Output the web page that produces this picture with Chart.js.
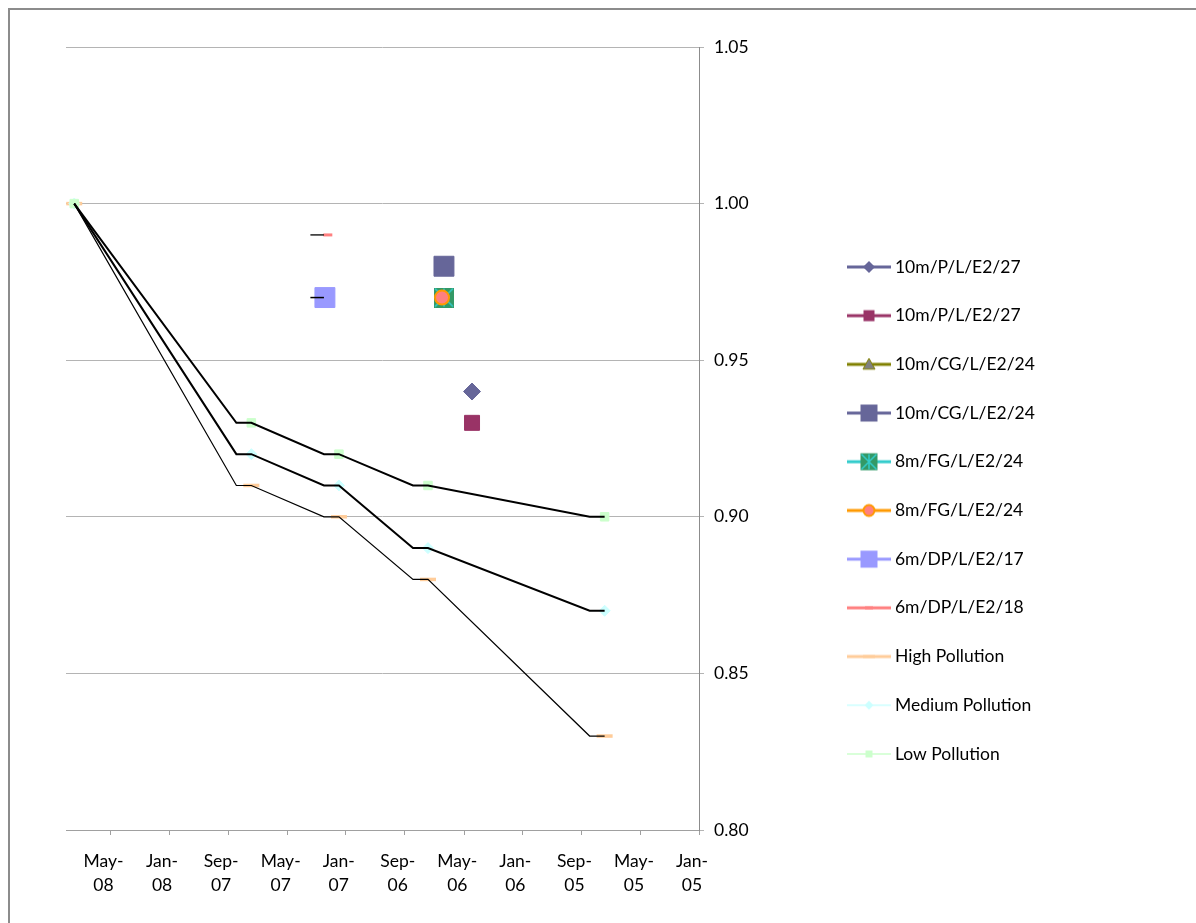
<!DOCTYPE html>
<html>

<head>
    <title>Pollution index chart</title>
    <script src="https://cdn.jsdelivr.net/npm/chart.js"></script>
    <style>
        body { margin: 0; background: #fff; overflow: hidden; }
        #frame { position: absolute; left: 8px; top: 8px; width: 1300px; height: 1000px;
                 border-left: 2px solid #8c8c8c; border-top: 2px solid #8c8c8c; }
        #pollutionChart { position: absolute; left: 0; top: 0; }
    </style>
</head>

<body>
<div id="frame"></div>
<canvas id="pollutionChart" width="1196" height="923"></canvas>
<script>
    // axis ticks (the time axis runs backwards, newest on the left)
    var tickDates = ['2008-05-01', '2008-01-01', '2007-09-01', '2007-05-01', '2007-01-01', '2006-09-01',
        '2006-05-01', '2006-01-01', '2005-09-01', '2005-05-01', '2005-01-01'];
    var tickLabels = ['May-08', 'Jan-08', 'Sep-07', 'May-07', 'Jan-07', 'Sep-06',
        'May-06', 'Jan-06', 'Sep-05', 'May-05', 'Jan-05'];
    var yTicks = [0.80, 0.85, 0.90, 0.95, 1.00, 1.05];

    // pollution scenarios
    var pollutionDates = ['2008-07-15', '2007-07-15', '2007-01-15', '2006-07-15', '2005-07-15'];
    var highPollution = [1.00, 0.91, 0.90, 0.88, 0.83];
    var mediumPollution = [1.00, 0.92, 0.91, 0.89, 0.87];
    var lowPollution = [1.00, 0.93, 0.92, 0.91, 0.90];

    // black step lines over the scenarios
    var stepDates = ['2008-07-15', '2007-08-15', '2007-07-15', '2007-02-15', '2007-01-15',
        '2006-08-15', '2006-07-15', '2005-08-15', '2005-07-15'];
    var highStep = [1.00, 0.91, 0.91, 0.90, 0.90, 0.88, 0.88, 0.83, 0.83];
    var mediumStep = [1.00, 0.92, 0.92, 0.91, 0.91, 0.89, 0.89, 0.87, 0.87];
    var lowStep = [1.00, 0.93, 0.93, 0.92, 0.92, 0.91, 0.91, 0.90, 0.90];

    // single measurements
    var p10Dates = ['2006-04-15'];
    var p10Diamond = [0.94];
    var p10Square = [0.93];
    var cg10Dates = ['2006-06-12'];
    var cg10Triangle = [0.98];
    var cg10Square = [0.98];
    var fg8StarDates = ['2006-06-12'];
    var fg8Star = [0.97];
    var fg8CircleDates = ['2006-06-16'];
    var fg8Circle = [0.97];
    var dp17Dates = ['2007-02-13'];
    var dp17 = [0.97];
    var dp18Dates = ['2007-02-07'];
    var dp18 = [0.99];
    var dpStepDates = ['2007-03-15', '2007-02-15'];
    var dp17Step = [0.97, 0.97];
    var dp18Step = [0.99, 0.99];

    var FONT = 'Lato';
    var FONT_SIZE = 17.5;
    var LEGEND_PAD = 31.2;
    var ICON_WIDTH = 34.5;

    function toDay(s) {
        return Date.UTC(+s.slice(0, 4), +s.slice(5, 7) - 1, +s.slice(8, 10)) / 86400000;
    }

    function pts(dates, values) {
        return values.map(function (v, i) {
            return {x: toDay(dates[i]), y: v};
        });
    }

    // draws one marker shape on a small canvas context
    function shape(g, kind, cx, cy, s, fill, stroke, sw) {
        g.beginPath();
        if (kind == 'diamond') {
            g.moveTo(cx, cy - s); g.lineTo(cx + s, cy); g.lineTo(cx, cy + s); g.lineTo(cx - s, cy); g.closePath();
        } else if (kind == 'square' || kind == 'star') {
            g.rect(cx - s, cy - s, 2 * s, 2 * s);
        } else if (kind == 'triangle') {
            g.moveTo(cx, cy - s); g.lineTo(cx + s, cy + s * 0.8); g.lineTo(cx - s, cy + s * 0.8); g.closePath();
        } else if (kind == 'circle') {
            g.arc(cx, cy, s, 0, Math.PI * 2);
        } else if (kind == 'dash') {
            g.rect(cx - s, cy - 1.5, 2 * s, 3);
        }
        g.fillStyle = fill;
        g.fill();
        if (stroke) {
            g.strokeStyle = stroke;
            g.lineWidth = sw;
            g.stroke();
        }
        if (kind == 'star') {
            g.beginPath();
            g.moveTo(cx - s + 1, cy - s + 1); g.lineTo(cx + s - 1, cy + s - 1);
            g.moveTo(cx + s - 1, cy - s + 1); g.lineTo(cx - s + 1, cy + s - 1);
            g.moveTo(cx, cy - s + 1); g.lineTo(cx, cy + s - 1);
            g.strokeStyle = '#33cccc';
            g.lineWidth = 1.5;
            g.stroke();
        }
    }

    function starMarker(size) {
        var c = document.createElement('canvas');
        c.width = size;
        c.height = size;
        shape(c.getContext('2d'), 'star', size / 2, size / 2, size / 2, '#339966');
        return c;
    }

    function legendIcon(lineColor, lineWidth, kind, s, fill, stroke, sw) {
        var c = document.createElement('canvas');
        c.width = 44;
        c.height = 20;
        var g = c.getContext('2d');
        g.strokeStyle = lineColor;
        g.lineWidth = lineWidth;
        g.beginPath();
        g.moveTo(0, 10);
        g.lineTo(44, 10);
        g.stroke();
        if (kind) {
            shape(g, kind, 22, 10, s, fill, stroke, sw);
        }
        return c;
    }

    var legendIcons = [
        legendIcon('#666699', 3, 'diamond', 6, '#666699'),
        legendIcon('#993366', 3, 'square', 5.5, '#993366'),
        legendIcon('#808000', 3, 'triangle', 6, '#808080', '#808000', 1),
        legendIcon('#666699', 3, 'square', 8.5, '#666699'),
        legendIcon('#33cccc', 3, 'star', 8.5, '#339966'),
        legendIcon('#ff9900', 3, 'circle', 5.5, '#ff8080', '#ff9900', 2),
        legendIcon('#9999ff', 3, 'square', 8.5, '#9999ff'),
        legendIcon('#ff8080', 3, 'dash', 4, '#ff8080'),
        legendIcon('#ffcc99', 3, 'dash', 6, '#ffcc99'),
        legendIcon('#ccffff', 1.5, 'diamond', 4.5, '#ccffff'),
        legendIcon('#ccffcc', 1.5, 'square', 3.5, '#ccffcc')
    ];

    function marker(label, data, style, radius, fill, border, borderWidth) {
        return {
            label: label,
            data: data,
            pointStyle: style,
            pointRadius: radius,
            pointHoverRadius: radius,
            pointBackgroundColor: fill,
            pointBorderColor: border,
            pointBorderWidth: borderWidth,
            backgroundColor: fill,
            borderColor: border
        };
    }

    function step(data, width) {
        return {
            label: '',
            noLegend: true,
            data: data,
            showLine: true,
            borderColor: '#000',
            borderWidth: width,
            pointRadius: 0,
            pointHoverRadius: 0
        };
    }

    var datasets = [
        marker('10m/P/L/E2/27', pts(p10Dates, p10Diamond), 'rectRot', 8.5, '#666699', '#666699', 1),
        marker('10m/P/L/E2/27', pts(p10Dates, p10Square), 'rect', 10.6, '#993366', '#993366', 1),
        marker('10m/CG/L/E2/24', pts(cg10Dates, cg10Triangle), 'triangle', 8, '#808080', '#808000', 1),
        marker('10m/CG/L/E2/24', pts(cg10Dates, cg10Square), 'rect', 14.1, '#666699', '#666699', 1),
        marker('8m/FG/L/E2/24', pts(fg8StarDates, fg8Star), starMarker(20), 10, '#339966', '#33cccc', 1),
        marker('8m/FG/L/E2/24', pts(fg8CircleDates, fg8Circle), 'circle', 7, '#ff8080', '#ff9900', 2),
        marker('6m/DP/L/E2/17', pts(dp17Dates, dp17), 'rect', 14.1, '#9999ff', '#9999ff', 1),
        marker('6m/DP/L/E2/18', pts(dp18Dates, dp18), 'line', 4.5, '#ff8080', '#ff8080', 3),
        marker('High Pollution', pts(pollutionDates, highPollution), 'line', 8, '#ffcc99', '#ffcc99', 3.5),
        marker('Medium Pollution', pts(pollutionDates, mediumPollution), 'rectRot', 5.5, '#ccffff', '#ccffff', 1),
        marker('Low Pollution', pts(pollutionDates, lowPollution), 'rect', 6, '#ccffcc', '#ccffcc', 1),
        step(pts(stepDates, lowStep), 2),
        step(pts(stepDates, mediumStep), 2),
        step(pts(stepDates, highStep), 1.2),
        step(pts(dpStepDates, dp17Step), 1.5),
        step(pts(dpStepDates, dp18Step), 1.3)
    ];

    // later series drawn on top, black step lines above everything
    datasets.forEach(function (ds, i) {
        ds.order = ds.noLegend ? 0 : 20 - i;
    });

    var tickIndex = {};
    tickDates.forEach(function (d, i) {
        tickIndex[toDay(d)] = i;
    });

    var ctx = document.getElementById('pollutionChart').getContext('2d');

    // legend width, so the plot can end at the same place on the right
    ctx.font = FONT_SIZE + 'px ' + FONT;
    var longest = 0;
    datasets.forEach(function (ds) {
        if (!ds.noLegend) {
            longest = Math.max(longest, ctx.measureText(ds.label).width);
        }
    });
    var legendWidth = LEGEND_PAD + ICON_WIDTH + FONT_SIZE / 2 + longest + 10;
    var rightPad = 1196 - 66 - 633 - 121.5 - legendWidth;

    Chart.defaults.font.family = FONT;
    Chart.defaults.font.size = FONT_SIZE;
    Chart.defaults.color = '#000';

    var chart = new Chart(ctx, {
        type: 'scatter',
        data: {datasets: datasets},
        options: {
            responsive: false,
            animation: false,
            devicePixelRatio: 1,
            events: [],
            layout: {
                padding: {left: 66, top: 47, right: rightPad, bottom: 0}
            },
            plugins: {
                tooltip: {enabled: false},
                legend: {
                    position: 'right',
                    align: 'start',
                    maxWidth: 400,
                    title: {
                        display: true,
                        text: '',
                        font: {size: 12},
                        padding: {top: 0, bottom: 165.6}
                    },
                    labels: {
                        usePointStyle: true,
                        pointStyleWidth: ICON_WIDTH,
                        padding: LEGEND_PAD,
                        font: {size: FONT_SIZE},
                        generateLabels: function (chart) {
                            var items = Chart.defaults.plugins.legend.labels.generateLabels(chart);
                            items.forEach(function (item) {
                                item.pointStyle = legendIcons[item.datasetIndex];
                            });
                            return items;
                        },
                        filter: function (item, data) {
                            return !data.datasets[item.datasetIndex].noLegend;
                        },
                        sort: function (a, b) {
                            return a.datasetIndex - b.datasetIndex;
                        }
                    }
                }
            },
            scales: {
                x: {
                    type: 'linear',
                    reverse: true,
                    min: toDay('2005-01-01'),
                    max: toDay('2008-08-01'),
                    afterBuildTicks: function (scale) {
                        scale.ticks = tickDates.map(function (d) {
                            return {value: toDay(d)};
                        });
                    },
                    afterFit: function (scale) {
                        scale.height = 93;
                    },
                    ticks: {
                        autoSkip: false,
                        maxRotation: 0,
                        padding: 14,
                        labelOffset: -7,
                        font: {size: FONT_SIZE, lineHeight: 1.4},
                        callback: function (value) {
                            var parts = tickLabels[tickIndex[value]].split('-');
                            return [parts[0] + '-', parts[1]];
                        }
                    },
                    grid: {
                        drawOnChartArea: false,
                        tickLength: 5,
                        color: '#a0a0a0'
                    },
                    border: {color: '#a0a0a0'}
                },
                y: {
                    position: 'right',
                    min: 0.8,
                    max: 1.05,
                    afterBuildTicks: function (scale) {
                        scale.ticks = yTicks.map(function (v) {
                            return {value: v};
                        });
                    },
                    afterFit: function (scale) {
                        scale.width = 121.5;
                    },
                    ticks: {
                        padding: 10,
                        callback: function (value) {
                            return value.toFixed(2);
                        }
                    },
                    grid: {
                        color: '#b4b4b4',
                        tickLength: 5
                    },
                    border: {color: '#8c8c8c'}
                }
            }
        }
    });
</script>
</body>

</html>
